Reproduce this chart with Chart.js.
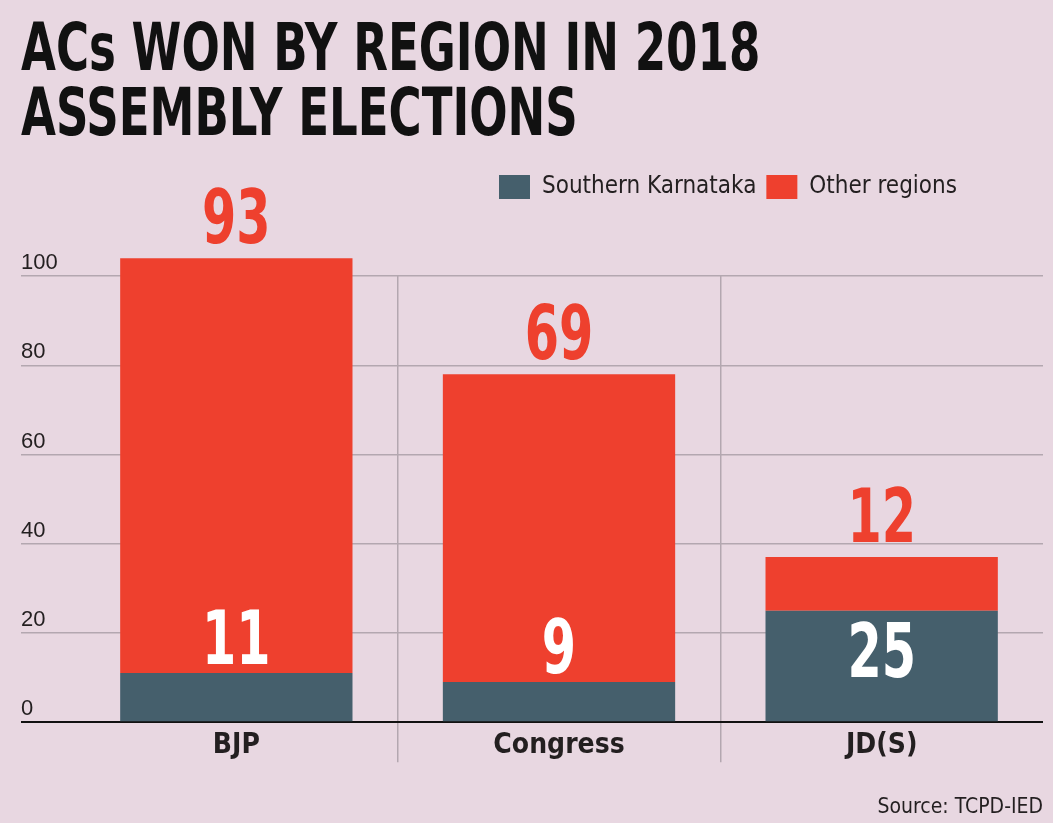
<!DOCTYPE html>
<html>
<head>
<meta charset="utf-8">
<script src="https://cdn.jsdelivr.net/npm/chart.js@4.4.1/dist/chart.umd.min.js"></script>
<style>
  html, body { margin: 0; padding: 0; background: #e8d7e1; }
  #wrap { width: 1053px; height: 823px; }
  canvas { display: block; }
</style>
</head>
<body>
<div id="wrap"><canvas id="c" width="1053" height="823"></canvas></div>
<script>
// ---- data ----
const categories = ['BJP', 'Congress', 'JD(S)'];
const southernKarnataka = [11, 9, 25];
const otherRegions = [93, 69, 12];
const seriesNames = ['Southern Karnataka', 'Other regions'];
const yTicks = [0, 20, 40, 60, 80, 100];
const titleLines = ['ACs WON BY REGION IN 2018', 'ASSEMBLY ELECTIONS'];
const sourceText = 'Source: TCPD-IED';

// ---- style ----
const BG = '#e8d7e1';
const RED = '#ee402e';
const DARK = '#455f6c';
const GRID = '#b3a7b0';
const NARROW = "'Liberation Sans Narrow', 'DejaVu Sans Condensed', 'Liberation Sans', sans-serif";
const REG = "'Liberation Sans', 'Open Sans', sans-serif";

const valueLabels = {
  id: 'valueLabels',
  afterDatasetsDraw(chart) {
    const ctx = chart.ctx;
    const draw = (txt, x, y, color) => {
      ctx.save();
      ctx.translate(x, y);
      ctx.scale(0.74, 1);
      ctx.fillStyle = color;
      ctx.fillText(txt, 0, 0);
      ctx.restore();
    };
    ctx.save();
    ctx.textAlign = 'center';
    ctx.textBaseline = 'alphabetic';
    ctx.font = 'bold 74px ' + NARROW;
    const m0 = chart.getDatasetMeta(0);
    const m1 = chart.getDatasetMeta(1);
    m0.data.forEach((bar, i) => {
      const base = bar.base;
      const top = bar.y;
      const yb = (base - top > 70) ? base - 44 : top - 9;
      draw(String(southernKarnataka[i]), bar.x, yb, '#ffffff');
    });
    m1.data.forEach((bar, i) => {
      draw(String(otherRegions[i]), bar.x, bar.y - 15, RED);
    });
    ctx.restore();
  }
};

const tweaks = {
  id: 'tweaks',
  afterLayout(chart) {
    const lg = chart.legend;
    if (lg) { lg.right -= 76; }
    const tb = chart.titleBlock;
    if (tb && !tb._squeezed) {
      const orig = tb.draw.bind(tb);
      tb.draw = function () {
        const ctx = chart.ctx;
        ctx.save();
        ctx.translate(tb.left, 0);
        ctx.scale(0.76, 1);
        ctx.translate(-tb.left, 0);
        orig();
        ctx.restore();
      };
      tb._squeezed = true;
    }
  }
};

const bgPlugin = {
  id: 'bg',
  beforeDraw(chart) {
    const ctx = chart.ctx;
    ctx.save();
    ctx.fillStyle = BG;
    ctx.fillRect(0, 0, chart.width, chart.height);
    ctx.restore();
  }
};

new Chart(document.getElementById('c'), {
  type: 'bar',
  data: {
    labels: categories,
    datasets: [
      { label: seriesNames[0], data: southernKarnataka, backgroundColor: DARK, clip: false },
      { label: seriesNames[1], data: otherRegions, backgroundColor: RED, clip: false }
    ]
  },
  options: {
    responsive: false,
    animation: false,
    events: [],
    categoryPercentage: 1,
    barPercentage: 0.72,
    layout: { padding: { left: 21, right: 10, top: 0, bottom: 3 } },
    plugins: {
      title: {
        display: true,
        text: titleLines,
        align: 'start',
        color: '#111111',
        font: { family: NARROW, size: 66, weight: 'bold', lineHeight: 0.985 },
        padding: { top: 20, bottom: 15 }
      },
      subtitle: {
        display: true,
        text: ' ',
        weight: 900,
        font: { size: 10 },
        padding: { top: 27, bottom: 28 }
      },
      legend: {
        display: true,
        position: 'top',
        align: 'end',
        labels: {
          boxWidth: 31,
          boxHeight: 24,
          color: '#231f20',
          font: { family: NARROW, size: 24 },
          padding: 10
        }
      },
      tooltip: { enabled: false }
    },
    scales: {
      x: {
        stacked: true,
        grid: {
          offset: true,
          drawTicks: true,
          tickLength: 40,
          color: (c) => (c.type === 'tick' && c.index > 0) ? GRID : 'rgba(0,0,0,0)',
          lineWidth: 1.5
        },
        border: { display: false },
        ticks: {
          color: '#231f20',
          font: { family: NARROW, size: 28, weight: 'bold' },
          padding: -33
        },
        title: {
          display: true,
          text: sourceText,
          align: 'end',
          color: '#231f20',
          font: { family: NARROW, size: 21 },
          padding: { top: 65, bottom: 0 }
        }
      },
      y: {
        stacked: true,
        min: 0,
        max: 100,
        afterBuildTicks: (scale) => { scale.ticks = yTicks.map(v => ({ value: v })); },
        afterFit: (scale) => { scale.width = 54; },
        grid: {
          drawTicks: true,
          tickLength: 54,
          color: (c) => (c.tick && c.tick.value === 0) ? '#111111' : GRID,
          lineWidth: (c) => (c.tick && c.tick.value === 0) ? 2 : 1.5
        },
        border: { display: false },
        ticks: {
          crossAlign: 'far',
          labelOffset: -13,
          color: '#231f20',
          font: { family: REG, size: 22 },
          padding: 0
        }
      }
    }
  },
  plugins: [bgPlugin, valueLabels, tweaks]
});
</script>
</body>
</html>
